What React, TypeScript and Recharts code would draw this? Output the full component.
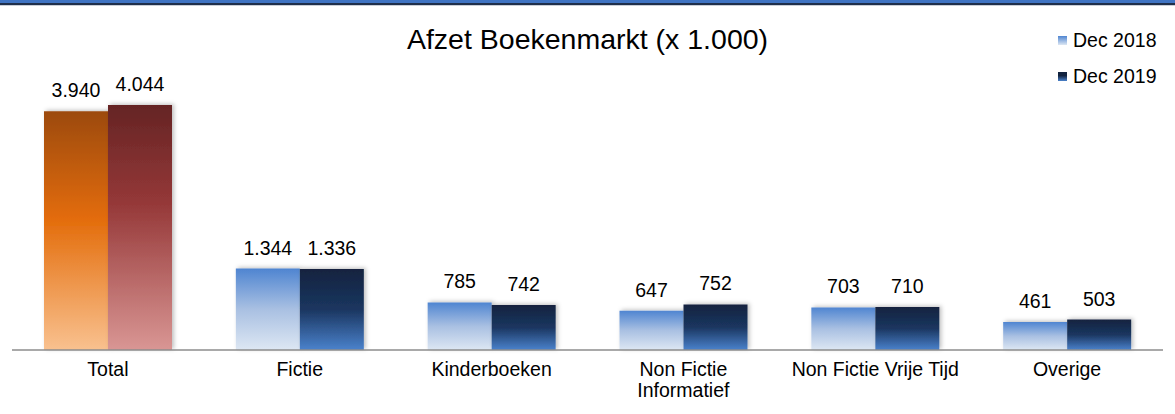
import { BarChart, Bar, XAxis, YAxis, LabelList, Cell } from 'recharts';

const categories = ['Total', 'Fictie', 'Kinderboeken', 'Non Fictie Informatief', 'Non Fictie Vrije Tijd', 'Overige'];
const tickLines = [['Total'], ['Fictie'], ['Kinderboeken'], ['Non Fictie', 'Informatief'], ['Non Fictie Vrije Tijd'], ['Overige']];
const dec2018 = [3940, 1344, 785, 647, 703, 461];
const dec2019 = [4044, 1336, 742, 752, 710, 503];
const seriesNames = ['Dec 2018', 'Dec 2019'];

const data = categories.map((name, i) => ({ name, d2018: dec2018[i], d2019: dec2019[i] }));

const FONT = '"Liberation Sans", Arial, sans-serif';

const fmt = (v: number) => v.toLocaleString('de-DE');

const CategoryTick = (props: any) => {
  const { x, y, payload } = props;
  const lines = tickLines[payload.index] || [payload.value];
  return (
    <text x={x} y={y} textAnchor="middle" fontFamily={FONT} fontSize={19.5} fill="#000">
      {lines.map((l, i) => (
        <tspan key={i} x={x} dy={i === 0 ? 18 : 21}>{l}</tspan>
      ))}
    </text>
  );
};

const LegendBox = () => (
  <div style={{ position: 'absolute', left: 1058, top: 22, fontFamily: FONT, fontSize: 19.5, color: '#000' }}>
    {seriesNames.map((s, i) => (
      <div key={s} style={{ display: 'flex', alignItems: 'center', height: 36 }}>
        <span style={{
          width: 9, height: 9, marginRight: 6, display: 'inline-block',
          background: i === 0 ? 'linear-gradient(#4f85d1, #dde7f3)' : 'linear-gradient(#12233f 40%, #4a82cc)',
        }} />
        {s}
      </div>
    ))}
  </div>
);

export default function App() {
  return (
    <div style={{ position: 'absolute', left: 0, top: 0, width: 1175, height: 414, background: '#fff' }}>
      <div style={{ position: 'absolute', left: 0, top: 0, width: 1175, height: 3, background: '#3f74c3' }} />
      <div style={{ position: 'absolute', left: 0, top: 3, width: 1175, height: 2, background: '#1f2f4a' }} />
      <div style={{ position: 'absolute', left: 0, top: 5, width: 1175, height: 1, background: '#c9ced6' }} />
      <div style={{
        position: 'absolute', left: 0, top: 23, width: 1175, textAlign: 'center',
        fontFamily: FONT, fontSize: 28.5, color: '#000', lineHeight: '32px',
      }}>
        Afzet Boekenmarkt (x 1.000)
      </div>
      <BarChart
        width={1175}
        height={414}
        data={data}
        margin={{ top: 47, right: 12, bottom: 4, left: 12 }}
        barCategoryGap={32}
        barGap={0}
      >
        <defs>
          <linearGradient id="g2018" x1="0" y1="0" x2="0" y2="1">
            <stop offset="0%" stopColor="#4f85d1" />
            <stop offset="50%" stopColor="#a9c0e2" />
            <stop offset="100%" stopColor="#dde7f3" />
          </linearGradient>
          <linearGradient id="g2019" x1="0" y1="0" x2="0" y2="1">
            <stop offset="0%" stopColor="#12233f" />
            <stop offset="50%" stopColor="#1b3660" />
            <stop offset="100%" stopColor="#4a82cc" />
          </linearGradient>
          <linearGradient id="gOrange" x1="0" y1="0" x2="0" y2="1">
            <stop offset="0%" stopColor="#9c4a0c" />
            <stop offset="45%" stopColor="#e36c0a" />
            <stop offset="100%" stopColor="#f9c18f" />
          </linearGradient>
          <linearGradient id="gRed" x1="0" y1="0" x2="0" y2="1">
            <stop offset="0%" stopColor="#652424" />
            <stop offset="40%" stopColor="#953838" />
            <stop offset="100%" stopColor="#d99694" />
          </linearGradient>
          <filter id="shadow" x="-20%" y="-20%" width="140%" height="140%">
            <feDropShadow dx="2" dy="-1" stdDeviation="2" floodColor="#000" floodOpacity="0.25" />
          </filter>
        </defs>
        <XAxis
          dataKey="name"
          height={60}
          tickLine={false}
          axisLine={{ stroke: '#8c8c8c', strokeWidth: 1.5 }}
          tick={<CategoryTick />}
          interval={0}
        />
        <YAxis hide domain={[0, 5000]} />
        <Bar dataKey="d2018" name={seriesNames[0]} isAnimationActive={false}>
          {data.map((d, i) => (
            <Cell key={d.name} fill={i === 0 ? 'url(#gOrange)' : 'url(#g2018)'} filter="url(#shadow)" />
          ))}
          <LabelList dataKey="d2018" position="top" offset={14} formatter={fmt} fill="#000" fontSize={19.5} fontFamily={FONT} />
        </Bar>
        <Bar dataKey="d2019" name={seriesNames[1]} isAnimationActive={false}>
          {data.map((d, i) => (
            <Cell key={d.name} fill={i === 0 ? 'url(#gRed)' : 'url(#g2019)'} filter="url(#shadow)" />
          ))}
          <LabelList dataKey="d2019" position="top" offset={14} formatter={fmt} fill="#000" fontSize={19.5} fontFamily={FONT} />
        </Bar>
      </BarChart>
      <LegendBox />
    </div>
  );
}
